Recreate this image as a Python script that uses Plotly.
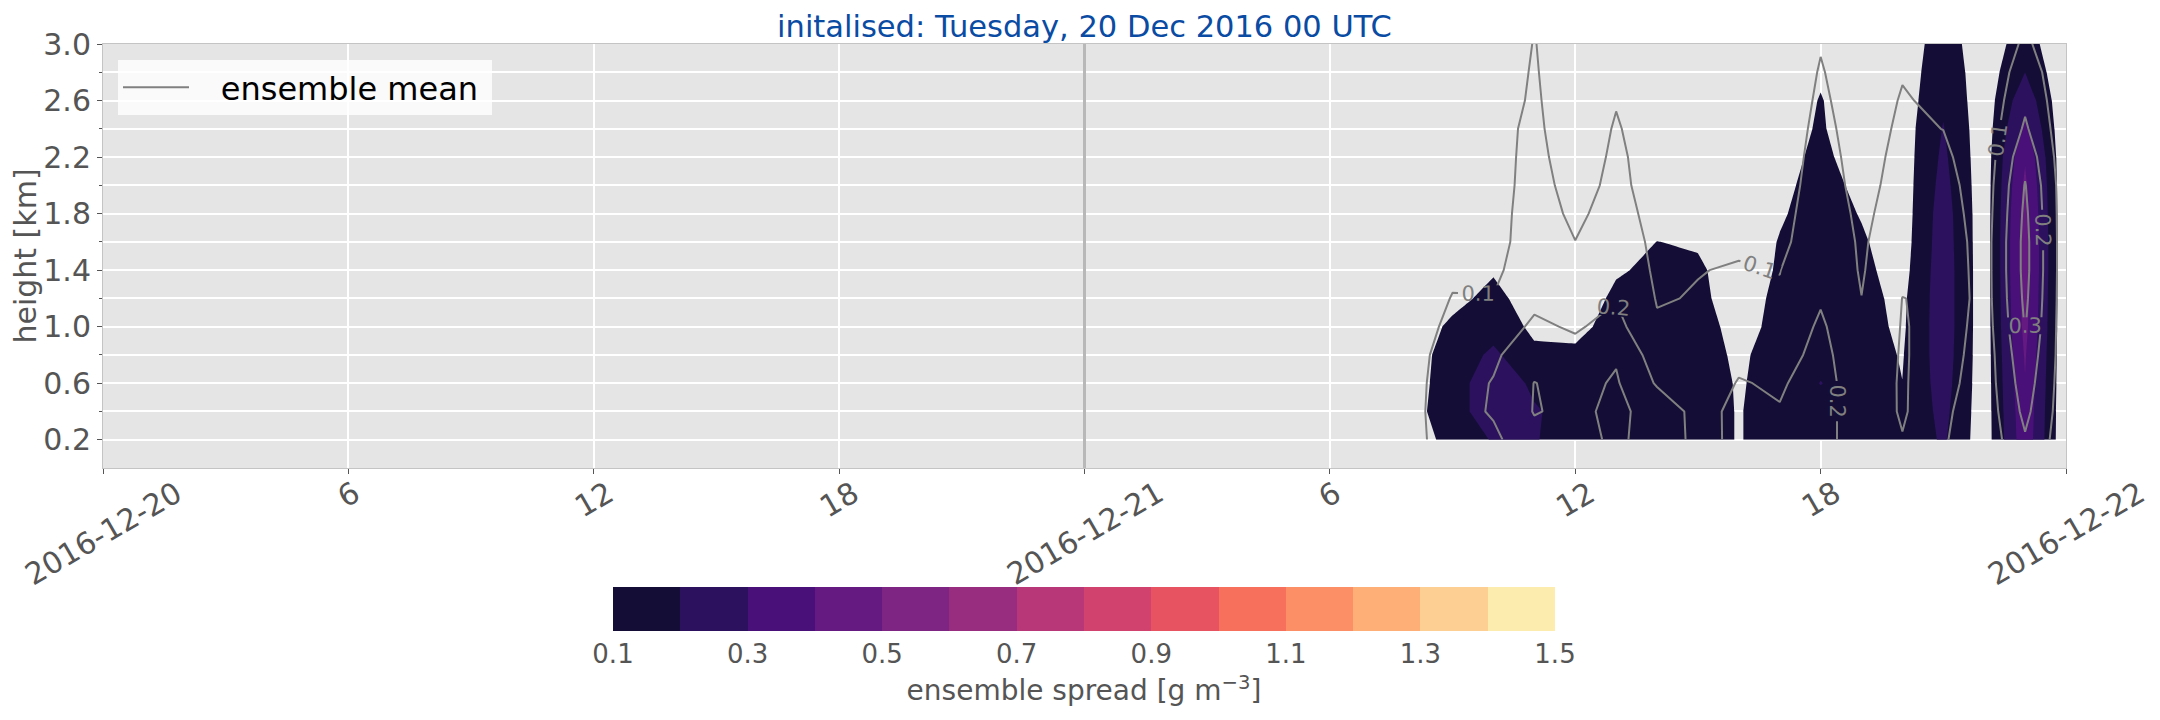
import numpy as np
import plotly.graph_objects as go

# ---------------- data ----------------
times = ['2016-12-21 07:00', '2016-12-21 08:00', '2016-12-21 09:00', '2016-12-21 10:00',
         '2016-12-21 11:00', '2016-12-21 12:00', '2016-12-21 13:00', '2016-12-21 14:00',
         '2016-12-21 15:00', '2016-12-21 16:00', '2016-12-21 17:00', '2016-12-21 18:00',
         '2016-12-21 19:00', '2016-12-21 20:00', '2016-12-21 21:00', '2016-12-21 22:00',
         '2016-12-21 23:00', '2016-12-22 00:00']
heights = [0.2, 0.4, 0.6, 0.8, 1.0, 1.2, 1.4, 1.6, 1.8, 2.0, 2.2, 2.4, 2.6, 2.8, 3.0, 3.2]

# ensemble spread, one vertical profile per hour (bottom -> top)
spread_h07 = [0.02, 0.02, 0.02, 0.02, 0.01, 0.01, 0.01, 0.01, 0.00, 0.00, 0.00, 0.00, 0.00, 0.00, 0.00, 0.00]
spread_h08 = [0.07, 0.07, 0.06, 0.06, 0.04, 0.02, 0.02, 0.01, 0.01, 0.00, 0.00, 0.00, 0.00, 0.00, 0.00, 0.00]
spread_h09 = [0.12, 0.15, 0.15, 0.14, 0.12, 0.07, 0.03, 0.02, 0.01, 0.01, 0.00, 0.00, 0.00, 0.00, 0.00, 0.00]
spread_h10 = [0.21, 0.27, 0.27, 0.22, 0.16, 0.13, 0.09, 0.05, 0.03, 0.02, 0.01, 0.00, 0.00, 0.00, 0.00, 0.00]
spread_h11 = [0.21, 0.21, 0.18, 0.12, 0.08, 0.05, 0.03, 0.02, 0.01, 0.01, 0.00, 0.00, 0.00, 0.00, 0.00, 0.00]
spread_h12 = [0.13, 0.16, 0.15, 0.12, 0.07, 0.04, 0.03, 0.02, 0.01, 0.01, 0.00, 0.00, 0.00, 0.00, 0.00, 0.00]
spread_h13 = [0.16, 0.17, 0.17, 0.16, 0.14, 0.12, 0.09, 0.05, 0.03, 0.02, 0.01, 0.00, 0.00, 0.00, 0.00, 0.00]
spread_h14 = [0.15, 0.16, 0.16, 0.16, 0.15, 0.14, 0.12, 0.101, 0.06, 0.03, 0.02, 0.01, 0.00, 0.00, 0.00, 0.00]
spread_h15 = [0.14, 0.14, 0.14, 0.13, 0.13, 0.12, 0.115, 0.09, 0.05, 0.03, 0.02, 0.01, 0.00, 0.00, 0.00, 0.00]
spread_h16 = [0.095, 0.095, 0.093, 0.088, 0.075, 0.06, 0.05, 0.04, 0.03, 0.02, 0.01, 0.01, 0.00, 0.00, 0.00, 0.00]
spread_h17 = [0.14, 0.14, 0.13, 0.13, 0.12, 0.12, 0.11, 0.105, 0.09, 0.08, 0.07, 0.06, 0.03, 0.02, 0.01, 0.00]
spread_h18 = [0.15, 0.16, 0.203, 0.17, 0.17, 0.16, 0.16, 0.15, 0.14, 0.13, 0.12, 0.11, 0.106, 0.085, 0.04, 0.02]
spread_h19 = [0.15, 0.15, 0.15, 0.14, 0.13, 0.125, 0.12, 0.11, 0.095, 0.08, 0.06, 0.04, 0.03, 0.02, 0.01, 0.00]
spread_h20 = [0.12, 0.11, 0.101, 0.094, 0.085, 0.08, 0.065, 0.055, 0.05, 0.05, 0.05, 0.05, 0.045, 0.04, 0.04, 0.03]
spread_h21 = [0.215, 0.23, 0.245, 0.255, 0.26, 0.26, 0.26, 0.255, 0.25, 0.235, 0.22, 0.205, 0.185, 0.17, 0.15, 0.13]
spread_h22 = [0.04, 0.04, 0.04, 0.04, 0.04, 0.04, 0.04, 0.04, 0.04, 0.04, 0.04, 0.04, 0.04, 0.04, 0.04, 0.03]
spread_h23 = [0.37, 0.38, 0.395, 0.41, 0.43, 0.44, 0.45, 0.45, 0.44, 0.42, 0.39, 0.33, 0.27, 0.20, 0.15, 0.10]
spread_h24 = [0.01, 0.01, 0.01, 0.01, 0.01, 0.01, 0.01, 0.01, 0.01, 0.01, 0.01, 0.01, 0.01, 0.01, 0.01, 0.01]

# ensemble mean, one vertical profile per hour (bottom -> top)
mean_h07 = [0.03, 0.03, 0.03, 0.02, 0.02, 0.01, 0.01, 0.01, 0.00, 0.00, 0.00, 0.00, 0.00, 0.00, 0.00, 0.00]
mean_h08 = [0.07, 0.07, 0.065, 0.06, 0.04, 0.03, 0.02, 0.02, 0.01, 0.01, 0.01, 0.00, 0.00, 0.00, 0.00, 0.00]
mean_h09 = [0.15, 0.16, 0.16, 0.15, 0.13, 0.105, 0.08, 0.06, 0.05, 0.04, 0.03, 0.02, 0.01, 0.01, 0.00, 0.00]
mean_h10 = [0.18, 0.21, 0.205, 0.185, 0.15, 0.103, 0.08, 0.065, 0.067, 0.068, 0.069, 0.07, 0.05, 0.04, 0.01, 0.00]
mean_h11 = [0.27, 0.305, 0.302, 0.26, 0.215, 0.18, 0.16, 0.15, 0.14, 0.13, 0.125, 0.12, 0.115, 0.11, 0.105, 0.102]
mean_h12 = [0.242, 0.28, 0.27, 0.23, 0.19, 0.15, 0.12, 0.101, 0.083, 0.07, 0.055, 0.04, 0.03, 0.02, 0.01, 0.01]
mean_h13 = [0.33, 0.32, 0.31, 0.29, 0.23, 0.195, 0.17, 0.16, 0.135, 0.12, 0.115, 0.108, 0.095, 0.08, 0.06, 0.05]
mean_h14 = [0.23, 0.264, 0.19, 0.15, 0.11, 0.095, 0.085, 0.075, 0.07, 0.066, 0.063, 0.05, 0.04, 0.03, 0.02, 0.01]
mean_h15 = [0.187, 0.168, 0.15, 0.13, 0.12, 0.104, 0.098, 0.085, 0.075, 0.065, 0.055, 0.045, 0.035, 0.025, 0.015, 0.01]
mean_h16 = [0.209, 0.223, 0.205, 0.18, 0.15, 0.12, 0.105, 0.09, 0.08, 0.07, 0.06, 0.05, 0.04, 0.03, 0.02, 0.01]
mean_h17 = [0.23, 0.205, 0.19, 0.16, 0.13, 0.11, 0.098, 0.075, 0.065, 0.055, 0.05, 0.045, 0.04, 0.035, 0.03, 0.025]
mean_h18 = [0.26, 0.25, 0.24, 0.23, 0.215, 0.19, 0.175, 0.165, 0.155, 0.145, 0.135, 0.125, 0.115, 0.106, 0.095, 0.085]
mean_h19 = [0.11, 0.125, 0.14, 0.13, 0.115, 0.101, 0.092, 0.088, 0.08, 0.07, 0.065, 0.06, 0.055, 0.05, 0.045, 0.04]
mean_h20 = [0.195, 0.212, 0.21, 0.208, 0.205, 0.201, 0.18, 0.16, 0.145, 0.135, 0.125, 0.115, 0.106, 0.095, 0.085, 0.075]
mean_h21 = [0.11, 0.12, 0.14, 0.16, 0.175, 0.19, 0.18, 0.17, 0.155, 0.14, 0.12, 0.099, 0.085, 0.07, 0.06, 0.05]
mean_h22 = [0.03, 0.035, 0.04, 0.04, 0.045, 0.05, 0.05, 0.05, 0.045, 0.04, 0.035, 0.03, 0.025, 0.02, 0.02, 0.02]
mean_h23 = [0.19, 0.225, 0.25, 0.275, 0.305, 0.32, 0.33, 0.33, 0.32, 0.305, 0.27, 0.215, 0.18, 0.15, 0.115, 0.105]
mean_h24 = [0.04, 0.04, 0.04, 0.04, 0.035, 0.035, 0.035, 0.035, 0.035, 0.035, 0.03, 0.03, 0.03, 0.03, 0.03, 0.03]

spread_cols = [spread_h07, spread_h08, spread_h09, spread_h10, spread_h11, spread_h12,
               spread_h13, spread_h14, spread_h15, spread_h16, spread_h17, spread_h18,
               spread_h19, spread_h20, spread_h21, spread_h22, spread_h23, spread_h24]
mean_cols = [mean_h07, mean_h08, mean_h09, mean_h10, mean_h11, mean_h12,
             mean_h13, mean_h14, mean_h15, mean_h16, mean_h17, mean_h18,
             mean_h19, mean_h20, mean_h21, mean_h22, mean_h23, mean_h24]

spread_levels = dict(start=0.1, end=1.5, size=0.1)
mean_levels = dict(start=0.1, end=0.3, size=0.1)

band_colors = ['#140e36', '#2b115e', '#4a1079', '#641a80', '#7e2482', '#982d80', '#b73779',
               '#d1426f', '#e85362', '#f7705c', '#fc8f65', '#feaf78', '#fecf92', '#fcecad']
cbar_ticks = [0.1, 0.3, 0.5, 0.7, 0.9, 1.1, 1.3, 1.5]

x_range = ['2016-12-20 00:00', '2016-12-22 00:00']
xtick_vals = ['2016-12-20 00:00', '2016-12-20 06:00', '2016-12-20 12:00', '2016-12-20 18:00',
              '2016-12-21 00:00', '2016-12-21 06:00', '2016-12-21 12:00', '2016-12-21 18:00',
              '2016-12-22 00:00']
xtick_text = ['2016-12-20', '6', '12', '18', '2016-12-21', '6', '12', '18', '2016-12-22']
ytick_vals = [0.2, 0.6, 1.0, 1.4, 1.8, 2.2, 2.6, 3.0]
ytick_text = ['0.2', '0.6', '1.0', '1.4', '1.8', '2.2', '2.6', '3.0']
ytick_minor = [0.4, 0.8, 1.2, 1.6, 2.0, 2.4, 2.8]
day_marker = '2016-12-21 00:00'

title_text = 'initalised: Tuesday, 20 Dec 2016 00 UTC'
legend_name = 'ensemble mean'

# ---------------- build ----------------
spread_z = np.array(spread_cols).T
mean_z = np.array(mean_cols).T

FONT = 'DejaVu Sans'
GREY = '#555555'
BODY = 8                      # default page body margin of the html page
W, H = 2160 - BODY, 720 - BODY
PX0, PX1, PY0, PY1 = 103, 2066, 44, 468   # target plot box in page pixels
ML, MT = PX0 - BODY, PY0 - BODY
MR = W - ML - (PX1 - PX0)
MB = H - MT - (PY1 - PY0)
PLOT_W, PLOT_H = PX1 - PX0, PY1 - PY0

# contour fill colorscale (plotly maps band midpoints to (i+1)/15, below-start -> 0)
nlev = 15
fill_scale = [[0.0, 'rgba(0,0,0,0)'], [0.5 / nlev, 'rgba(0,0,0,0)']]
for i, c in enumerate(band_colors):
    lo = (i + 0.5) / nlev
    hi = min((i + 1.5) / nlev, 1.0)
    fill_scale.append([lo, c])
    fill_scale.append([hi, c])
if fill_scale[-1][0] < 1.0:
    fill_scale.append([1.0, band_colors[-1]])

# discrete colorbar scale
nb = len(band_colors)
cbar_scale = []
for i, c in enumerate(band_colors):
    cbar_scale.append([i / nb, c])
    cbar_scale.append([(i + 1) / nb, c])

fig = go.Figure()

fig.add_trace(go.Contour(
    x=times, y=heights, z=spread_z,
    autocontour=False, contours=dict(coloring='fill', **spread_levels),
    colorscale=fill_scale, showscale=False,
    line=dict(width=0, smoothing=0),
    hoverinfo='skip', showlegend=False,
))

fig.add_trace(go.Contour(
    x=times, y=heights, z=mean_z,
    autocontour=False,
    contours=dict(coloring='none', showlabels=True, labelformat='.1f',
                  labelfont=dict(family=FONT, size=21, color='#808080'), **mean_levels),
    line=dict(color='#808080', width=2, smoothing=0),
    showscale=False, hoverinfo='skip', showlegend=False,
))

# legend entry (figure/thin spaces only pad the entry like the reference legend)
fig.add_trace(go.Scatter(
    x=[None], y=[None], mode='lines', name='\u2007\u2009' + legend_name + '\u2005',
    line=dict(color='#808080', width=2),
))

# colorbar carrier
fig.add_trace(go.Scatter(
    x=[None], y=[None], mode='markers', showlegend=False, hoverinfo='skip',
    marker=dict(color=[cbar_ticks[0]], cmin=cbar_ticks[0], cmax=cbar_ticks[-1],
                colorscale=cbar_scale, showscale=True,
                colorbar=dict(
                    orientation='h', x=(1084 - PX0) / PLOT_W, xanchor='center',
                    y=-(587 - PY1) / PLOT_H, yanchor='top', thickness=44,
                    len=942 / PLOT_W, lenmode='fraction', xpad=0, ypad=0,
                    outlinewidth=0, ticks='', ticklen=0,
                    tickvals=cbar_ticks, ticktext=[f'{v:.1f}' for v in cbar_ticks],
                    tickfont=dict(family=FONT, size=26, color=GREY),
                    title=dict(text='ensemble spread [g m<sup>−3</sup>]', side='bottom',
                               font=dict(family=FONT, size=28, color=GREY)),
                )),
))

fig.add_shape(type='line', xref='x', yref='paper', x0=day_marker, x1=day_marker,
              y0=0, y1=1, line=dict(color='#b8b8b8', width=3), layer='above')

# rotated x tick labels (centred on their ticks)
for tv, tt in zip(xtick_vals, xtick_text):
    fig.add_annotation(x=tv, xref='x', y=-(472 - PY1) / PLOT_H, yref='paper',
                       text=tt, showarrow=False, textangle=-30,
                       xanchor='center', yanchor='top',
                       font=dict(family=FONT, size=30, color=GREY))

fig.update_layout(
    width=W, height=H,
    margin=dict(l=ML, r=MR, t=MT, b=MB),
    paper_bgcolor='white', plot_bgcolor='#E5E5E5',
    font=dict(family=FONT, color=GREY),
    title=dict(text=title_text, x=0.5, xref='paper', xanchor='center',
               y=1 - (26 - BODY) / H, yref='container', yanchor='middle',
               font=dict(family=FONT, size=30.5, color='#0a4ba3')),
    legend=dict(x=(118 - PX0) / PLOT_W, y=(PY1 - 60) / PLOT_H, xanchor='left', yanchor='top',
                bgcolor='rgba(255,255,255,0.8)', borderwidth=0,
                font=dict(family=FONT, size=32, color='black'), itemwidth=66),
    xaxis=dict(type='date', range=x_range, tickmode='array',
               tickvals=xtick_vals, showticklabels=False, automargin=False,
               showgrid=True, gridcolor='white', gridwidth=1.5,
               ticks='outside', ticklen=5, tickcolor=GREY,
               showline=True, linecolor='#c4c4c4', linewidth=1, mirror=True,
               zeroline=False),
    yaxis=dict(range=[0, 3.0], tickmode='array', tickvals=ytick_vals, ticktext=ytick_text,
               tickfont=dict(family=FONT, size=30, color=GREY), automargin=False,
               showgrid=True, gridcolor='white', gridwidth=1.5,
               ticks='outside', ticklen=5, tickcolor=GREY,
               minor=dict(tickmode='array', tickvals=ytick_minor, showgrid=True,
                          gridcolor='white', gridwidth=1.5, ticks='outside',
                          ticklen=3, tickcolor=GREY),
               showline=True, linecolor='#c4c4c4', linewidth=1, mirror=True,
               zeroline=False,
               title=dict(text='height [km]', standoff=2,
                          font=dict(family=FONT, size=30, color=GREY))),
)

fig.write_html('out.html')
